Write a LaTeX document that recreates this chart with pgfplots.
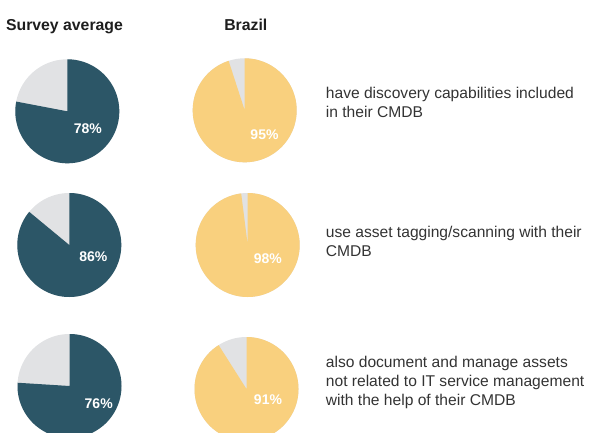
\documentclass[border=0pt]{standalone}
\usepackage{pgfplots}
\pgfplotsset{compat=1.18}
\usepackage{fontspec}
\setmainfont{Liberation Sans}
\definecolor{pieteal}{HTML}{2C5667}
\definecolor{piegray}{HTML}{E1E2E4}
\definecolor{pieyellow}{HTML}{F9D07E}
\definecolor{titlecol}{HTML}{1E1E1E}
\definecolor{textcol}{HTML}{333333}
% \pie{cx}{cy}{r}{percent}{colour}
\newcommand{\pie}[5]{%
  \addplot[fill=piegray, draw=none, domain=0:360, samples=181, variable=\t]
    ({#1+#3*cos(\t)},{#2+#3*sin(\t)});
  \addplot[fill=#5, draw=none, samples at={-1,0,0.5,...,#4}, variable=\t]
    ({\t<0 ? #1 : #1+#3*sin(3.6*\t)},{\t<0 ? #2 : #2-#3*cos(3.6*\t)});
}
\begin{document}
\begin{tikzpicture}
\begin{axis}[width=592bp, height=433bp, scale only axis,
  xmin=0, xmax=592, ymin=0, ymax=433, y dir=reverse,
  hide axis, clip=true]
% Survey average
\pie{67.3}{111.3}{52}{78}{pieteal}
\pie{69.3}{245}{52}{86}{pieteal}
\pie{69.5}{386}{52}{76}{pieteal}
% Brazil
\pie{244.7}{110.3}{52}{95}{pieyellow}
\pie{247.7}{245}{52}{98}{pieyellow}
\pie{246.5}{389}{52}{91}{pieyellow}
% percentage labels
\begin{scope}[every node/.style={font=\fontsize{14bp}{16bp}\selectfont\bfseries, text=white, inner sep=0pt}]
\node at (axis cs:87.8,128.3) {78\%};
\node at (axis cs:93.3,256.7) {86\%};
\node at (axis cs:98.7,403.7) {76\%};
\node at (axis cs:264.5,135) {95\%};
\node at (axis cs:267.8,259) {98\%};
\node at (axis cs:268,399.5) {91\%};
\end{scope}
% column titles
\begin{scope}[every node/.style={font=\fontsize{15.8bp}{18bp}\selectfont\bfseries, text=titlecol, inner sep=0pt, anchor=base}]
\node at (axis cs:64.5,31) {Survey average};
\node at (axis cs:245.8,31) {Brazil};
\end{scope}
% descriptions
\begin{scope}[every node/.style={font=\fontsize{15.6bp}{19bp}\selectfont, text=textcol, inner sep=0pt, anchor=base west}]
\node at (axis cs:325.7,98.3) {have discovery capabilities included};
\node at (axis cs:325.7,117.3) {in their CMDB};
\node at (axis cs:325.7,237.3) {use asset tagging/scanning with their};
\node at (axis cs:325.7,256.3) {CMDB};
\node at (axis cs:325.7,367.3) {also document and manage assets};
\node at (axis cs:325.7,386.3) {not related to IT service management};
\node at (axis cs:325.7,405.3) {with the help of their CMDB};
\end{scope}
\end{axis}
\pgfresetboundingbox
\useasboundingbox (current axis.south west) rectangle (current axis.north east);
\end{tikzpicture}
\end{document}
